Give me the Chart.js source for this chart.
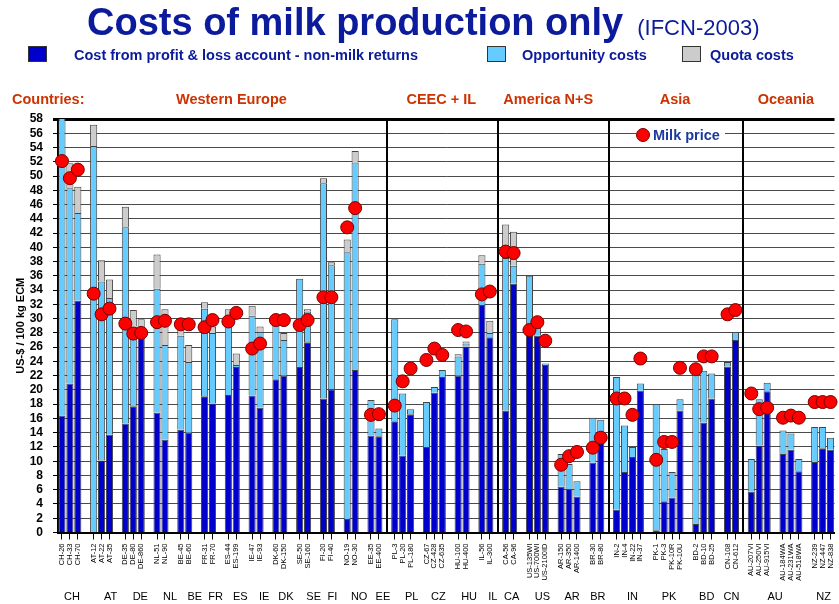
<!DOCTYPE html>
<html><head><meta charset="utf-8">
<script src="https://cdn.jsdelivr.net/npm/chart.js@4/dist/chart.umd.min.js"></script>
<style>
html,body{margin:0;padding:0;width:839px;height:604px;overflow:hidden;background:#fff;font-family:"Liberation Sans",Arial,sans-serif;}
#c{position:absolute;left:0;top:0;}
.t{position:absolute;white-space:nowrap;color:#0b1b9b;z-index:2;}
.sw{position:absolute;width:19px;height:16px;border:1px solid #333;box-sizing:border-box;z-index:2;}
.lg{font-weight:bold;font-size:14.5px;line-height:18px;top:46px;}
</style></head><body>
<div class="t" style="left:87px;top:0px;line-height:44px;"><span style="font-weight:bold;font-size:38px;">Costs of milk production only</span><span style="font-size:22px;margin-left:14px;">(IFCN-2003)</span></div>
<div class="sw" style="left:28px;top:46px;background:#0000cc"></div>
<div class="t lg" style="left:74px;">Cost from profit &amp; loss account - non-milk returns</div>
<div class="sw" style="left:487px;top:46px;background:#66ccff"></div>
<div class="t lg" style="left:522px;">Opportunity costs</div>
<div class="sw" style="left:682px;top:46px;background:#cccccc"></div>
<div class="t lg" style="left:710px;">Quota costs</div>
<canvas id="c" width="842" height="604"></canvas>
<script>
// ---- categories (farms grouped by country; AU split into Victoria / Western Australia) ----
const farmGroups = [
  ['CH-26','CH-33','CH-70'], ['AT-12','AT-22','AT-35'], ['DE-35','DE-80','DE-860'],
  ['NL-51','NL-90'], ['BE-45','BE-60'], ['FR-31','FR-70'], ['ES-44','ES-199'],
  ['IE-47','IE-93'], ['DK-60','DK-150'], ['SE-50','SE-160'], ['FI-20','FI-40'],
  ['NO-19','NO-30'], ['EE-35','EE-400'],
  ['PL-3','PL-20','PL-180'], ['CZ-67','CZ-428','CZ-635'], ['HU-100','HU-400'], ['IL-56','IL-300'],
  ['CA-56','CA-96'], ['US-135WI','US-700WI','US-2100ID'], ['AR-150','AR-350','AR-1400'], ['BR-30','BR-80'],
  ['IN-2','IN-4','IN-22','IN-37'], ['PK-1','PK-3','PK-10R','PK-10U'], ['BD-2','BD-10','BD-25'], ['CN-108','CN-612'],
  ['AU-207VI','AU-250VI','AU-915VI'], ['AU-184WA','AU-231WA','AU-518WA'], ['NZ-239','NZ-447','NZ-838']
];
const regions = [
  {name:'Western Europe', countries:['CH','AT','DE','NL','BE','FR','ES','IE','DK','SE','FI','NO','EE']},
  {name:'CEEC + IL', countries:['PL','CZ','HU','IL']},
  {name:'America N+S', countries:['CA','US','AR','BR']},
  {name:'Asia', countries:['IN','PK','BD','CN']},
  {name:'Oceania', countries:['AU','NZ']}
];
// ---- series values (US-$ / 100 kg ECM), in farm order ----
const costPL = [16.4,20.9,32.5, 0,10.1,13.7, 15.3,17.7,28.6, 16.8,13.0, 14.4,14.0, 19.1,18.1, 19.3,23.2,
  19.2,17.5, 21.5,22.0, 23.2,26.7, 18.8,20.1, 1.9,22.8, 13.6,13.5,
  15.6,10.8,16.6, 12.0,19.6,21.8, 22.0,26.1, 31.9,27.4,
  17.1,34.9, 28.3,27.6,23.5, 6.4,6.1,5.0, 9.8,12.8,
  3.2,8.5,10.6,19.9, 0.3,4.4,4.9,17.1, 1.2,15.4,18.8, 23.3,27.0,
  5.7,12.2,19.8, 11.0,11.6,8.6, 9.9,11.8,11.6];
const opportunityCosts = [43.6,27.4,12.3, 54.2,25.1,19.2, 27.5,11.2,0.1, 17.4,13.3, 13.2,9.9, 12.3,9.9, 10.8,0.3,
  11.2,10.6, 8.5,5.0, 12.4,4.3, 30.2,17.4, 37.4,29.1, 5.0,1.1,
  14.3,8.7,0.7, 6.3,0.8,1.0, 2.7,0.4, 5.8,0.6,
  21.4,2.5, 7.7,1.8,0.2, 4.6,3.5,2.2, 6.3,3.0,
  18.6,6.5,1.4,1.0, 17.7,7.3,3.6,1.6, 21.2,7.3,3.5, 0.6,1.1,
  4.6,6.5,1.2, 3.3,2.3,1.7, 4.9,3.0,1.7];
const quotaCosts = [0,3.5,3.7, 3.0,3.0,2.6, 2.9,2.3,1.2, 4.8,5.0, 2.4,2.4, 0.9,0.9, 1.2,1.6,
  1.4,0.8, 0,1.0, 0,0.3, 0.7,0.4, 1.8,1.6, 0,0,
  0,0,0, 0,0,0, 0.3,0.3, 1.2,1.7,
  4.7,4.8, 0,0,0, 0,0,0, 0,0,
  0,0,0,0, 0,0,0,0, 0,0,0, 0,0,
  0,0,0, 0,0,0, 0,0,0];
const milkPrice = [52.1,49.7,50.9, 33.5,30.6,31.4, 29.3,27.9,28.0, 29.5,29.7, 29.2,29.2, 28.8,29.8, 29.6,30.8,
  25.8,26.5, 29.8,29.8, 29.1,29.8, 33.0,33.0, 42.8,45.5, 16.5,16.6,
  17.8,21.2,23.0, 24.2,25.8,24.9, 28.4,28.2, 33.4,33.8,
  39.4,39.2, 28.4,29.5,26.9, 9.5,10.7,11.3, 11.9,13.3,
  18.8,18.8,16.5,24.4, 10.2,12.7,12.7,23.1, 22.9,24.7,24.7, 30.6,31.2,
  19.5,17.3,17.5, 16.1,16.4,16.1, 18.3,18.3,18.3];
const yTicks = {min:0, max:58, step:2};
const seriesNames = ['Cost from profit & loss account - non-milk returns','Opportunity costs','Quota costs','Milk price'];

// ---- layout / style (not data) ----
const COL = {pl:'#0000cc', opp:'#66ccff', quota:'#cccccc', milk:'#ff0000', region:'#cc3300', blue:'#0b1b9b'};
const countryShift = {CH:2,AT:9,DE:7,NL:9,BE:10,FR:7,ES:8,IE:8,DK:6,SE:10,FI:5,NO:8,EE:8,PL:9,CZ:4,HU:7,IL:7,CA:2,US:5,AR:3,BR:1,IN:4,PK:1,BD:3,CN:0,AU:0,NZ:1};
const regionShift = [11,-1,-5,-1,-5];

// build category slots with an empty slot between groups
const farms = farmGroups.flat();
const slots = [];
farmGroups.forEach((g, gi) => { if (gi) slots.push(''); g.forEach(f => slots.push(f)); });
const pad = arr => slots.map(s => { if (!s) return null; const v = arr[farms.indexOf(s)]; return v ? v : null; });
const countryOf = s => s ? s.split('-')[0] : null;

const overlay = {
  id:'overlay',
  beforeDatasetsDraw(chart){
    const {ctx, chartArea:ca, scales:{x}} = chart;
    ctx.save();
    // region dividers in the gap before each region
    ctx.strokeStyle = '#000'; ctx.lineWidth = 2;
    regions.forEach((r, ri) => {
      if (!ri) return;
      const first = slots.findIndex(s => countryOf(s) === r.countries[0]);
      const px = Math.round(x.getPixelForValue(first - 1));
      ctx.beginPath(); ctx.moveTo(px, ca.top); ctx.lineTo(px, ca.bottom); ctx.stroke();
    });
    // milk price legend
    ctx.fillStyle = '#fff'; ctx.fillRect(636, 125, 89, 20);
    ctx.beginPath(); ctx.arc(643, 135, 6.5, 0, Math.PI*2);
    ctx.fillStyle = COL.milk; ctx.fill(); ctx.lineWidth = 1; ctx.strokeStyle = '#7a0000'; ctx.stroke();
    ctx.fillStyle = '#1e3a9e'; ctx.font = 'bold 14.5px "Liberation Sans"';
    ctx.textBaseline = 'middle'; ctx.textAlign = 'left';
    ctx.fillText(seriesNames[3], 653, 135.5);
    ctx.restore();
  },
  afterDraw(chart){
    const {ctx, scales:{x}} = chart;
    ctx.save();
    ctx.textBaseline = 'middle';
    // region labels
    ctx.fillStyle = COL.region; ctx.font = 'bold 14.5px "Liberation Sans"';
    ctx.textAlign = 'left'; ctx.fillText('Countries:', 12, 100);
    ctx.textAlign = 'center';
    regions.forEach((r, ri) => {
      const idx = slots.map((s,i) => r.countries.includes(countryOf(s)) ? i : -1).filter(i => i >= 0);
      const cx = (x.getPixelForValue(idx[0]) + x.getPixelForValue(idx[idx.length-1]))/2 + regionShift[ri];
      ctx.fillText(r.name, cx, 100);
    });
    // country labels
    ctx.fillStyle = '#000'; ctx.font = '11px "Liberation Sans"';
    const countries = [...new Set(slots.filter(s => s).map(countryOf))];
    countries.forEach(c => {
      const idx = slots.map((s,i) => countryOf(s) === c ? i : -1).filter(i => i >= 0);
      const cx = (x.getPixelForValue(idx[0]) + x.getPixelForValue(idx[idx.length-1]))/2 + (countryShift[c]||0);
      ctx.fillText(c, cx, 597);
    });
    ctx.restore();
  }
};

const barCommon = {type:'bar', stack:'cost', order:1, borderColor:'#444', borderWidth:1,
  barPercentage:0.9, categoryPercentage:1.0, clip:0};

new Chart(document.getElementById('c'), {
  data:{
    labels: slots,
    datasets:[
      {type:'line', label:seriesNames[3], data:pad(milkPrice), showLine:false, stack:'milk', order:0,
       pointRadius:6.5, pointBackgroundColor:COL.milk, pointBorderColor:'#7a0000', pointBorderWidth:1, clip:false},
      Object.assign({label:seriesNames[0], data:pad(costPL), backgroundColor:COL.pl}, barCommon),
      Object.assign({label:seriesNames[1], data:pad(opportunityCosts), backgroundColor:COL.opp}, barCommon),
      Object.assign({label:seriesNames[2], data:pad(quotaCosts), backgroundColor:COL.quota}, barCommon)
    ]
  },
  options:{
    responsive:false, animation:false, events:[],
    layout:{padding:{top:119, left:0, right:0, bottom:0}},
    plugins:{legend:{display:false}, tooltip:{enabled:false}, title:{display:false}},
    scales:{
      x:{
        stacked:true,
        grid:{offset:false, drawOnChartArea:false, drawTicks:true, tickLength:7,
              tickColor: c => slots[c.index] ? '#000' : 'rgba(0,0,0,0)', tickWidth:1},
        border:{display:true, color:'#000', width:2},
        ticks:{autoSkip:false, minRotation:90, maxRotation:90, padding:4, color:'#000',
               font:{family:'"Liberation Sans"', size:7.5}},
        afterFit(s){ s.height = 71.5; s.paddingLeft = 0; s.paddingRight = 0; }
      },
      y:{
        stacked:true, min:yTicks.min, max:yTicks.max,
        ticks:{stepSize:yTicks.step, autoSkip:false, padding:10, color:'#000',
               font:{family:'"Liberation Sans"', size:12, weight:'bold'}},
        grid:{color: c => (c.tick && c.tick.value === yTicks.max) ? '#000' : '#4a4a4a',
              lineWidth: c => (c.tick && c.tick.value === yTicks.max) ? 3 : 1,
              tickLength:5, tickColor:'#000'},
        border:{display:true, color:'#000', width:2},
        title:{display:true, text:'US-$ / 100 kg ECM', color:'#000', padding:{top:14, bottom:0},
               font:{family:'"Liberation Sans"', size:11, weight:'bold'}},
        afterFit(s){ s.width = 58; s.paddingTop = 0; s.paddingBottom = 0; }
      }
    }
  },
  plugins:[overlay]
});
</script>
</body></html>
